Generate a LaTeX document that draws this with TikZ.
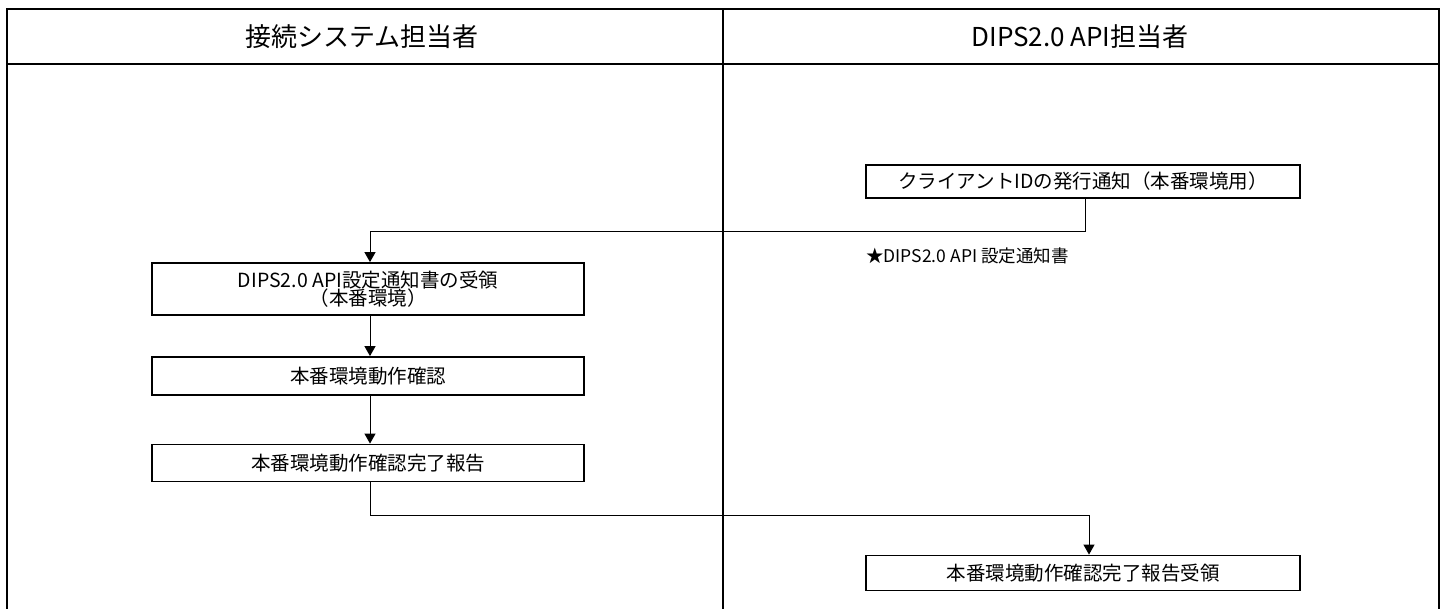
\documentclass[tikz,border=0pt]{standalone}
\usepackage{fontspec}
\setmainfont{Noto Sans CJK JP}
\usetikzlibrary{arrows.meta}
\tikzset{
  x=1pt, y=-1pt,
  frame/.style={line width=2pt, black},
  stepbox/.style={draw, line width=1.8pt, rectangle, inner sep=0pt, align=center, font=\fontsize{19.5}{21}\selectfont},
  conn/.style={line width=1pt, -{Triangle[width=11pt,length=10pt]}},
  head/.style={font=\fontsize{26}{30}\selectfont, inner sep=0pt},
  note/.style={font=\fontsize{17.5}{19}\selectfont, inner sep=0pt, anchor=west}
}
\begin{document}
\begin{tikzpicture}
\useasboundingbox[fill=white] (0,0) rectangle (1448,608);
% frame
\draw[frame] (7,610) -- (7,9) -- (1439,9) -- (1439,610);
\draw[frame] (7,64) -- (1439,64);
\draw[frame] (723,9) -- (723,610);
% headers
\node[head] (h1) at (362,37) {接続システム担当者};
\node[head] (h2) at (1080,37) {DIPS2.0 API担当者};
% boxes
\node[stepbox, minimum width=434pt, minimum height=33pt] (A) at (1083,181.5) {クライアントIDの発行通知（本番環境用）};
\node[stepbox, minimum width=432pt, minimum height=52pt] (B) at (368,289) {DIPS2.0 API設定通知書の受領\\[-3pt]（本番環境）};
\node[stepbox, minimum width=432pt, minimum height=38pt] (C) at (368,376) {本番環境動作確認};
\node[stepbox, minimum width=432pt, minimum height=37pt] (D) at (368,463) {本番環境動作確認完了報告};
\node[stepbox, minimum width=434pt, minimum height=35pt] (E) at (1083,573) {本番環境動作確認完了報告受領};
% note
\node[note] (n) at (866,256) {★DIPS2.0 API 設定通知書};
% connectors
\coordinate (a1) at ([xshift=2pt]A.south |- 0,231);
\draw[conn] ([xshift=2pt]A.south) -- (a1) -| ([xshift=2pt]B.north);
\draw[conn] ([xshift=2pt]B.south) -- ([xshift=2pt]C.north);
\draw[conn] ([xshift=2pt]C.south) -- ([xshift=2pt]D.north);
\coordinate (d1) at ([xshift=2pt]D.south |- 0,515);
\draw[conn] ([xshift=2pt]D.south) -- (d1) -| ([xshift=6pt]E.north);
\end{tikzpicture}
\end{document}
